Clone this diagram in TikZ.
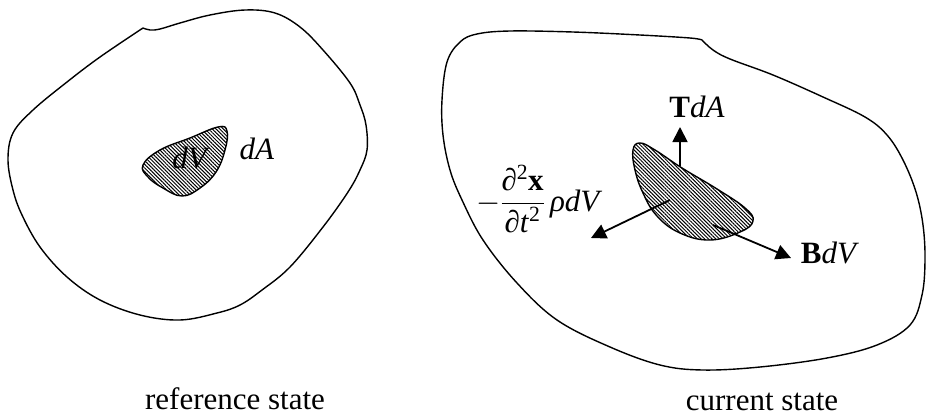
\RequirePackage{fix-cm}
\documentclass[tikz,border=0pt]{standalone}
\usepackage{amsmath}
\usepackage{fontspec}
\setmainfont{Liberation Serif}
\usetikzlibrary{arrows.meta,patterns.meta}
\begin{document}
\begin{tikzpicture}[x=1pt,y=-1pt,
  outline/.style={line width=1.4pt, line join=round},
  blob/.style={line width=1.4pt, pattern={Lines[angle=-45,distance=2.6pt,line width=1pt]}},
  vec/.style={line width=1.8pt,-{Triangle[length=15pt,width=15pt]}},
  lbl/.style={inner sep=0pt, font=\fontsize{31}{36}\selectfont}]
\useasboundingbox (0,0) rectangle (926,413);
% reference configuration
\draw[outline] plot[smooth, tension=0.6] coordinates {(143,28) (100,57) (67,82) (33,110) (13,133) (8,160) (13,190) (22,215) (40,247) (67,277) (100,300) (140,315) (180,320) (217,313) (240,305) (262,290) (290,267) (323,227) (348,192) (360,170) (367,150) (366,125) (360,105) (350,83) (323,50) (300,27) (275,13) (245,10) (210,15) (180,23) (160,29) (150,30) (143,28)};
\draw[blob] plot[smooth cycle, tension=0.7] coordinates {(143,165) (160,150) (190,138) (218,127) (227,131) (225,150) (216,172) (200,188) (182,196) (163,188) (148,177)};
\node[lbl] (dVl) at (191,158) {\textit{dV}};
\node[lbl] (dAl) at (257,149) {\textit{dA}};
% current configuration
\draw[outline] plot[smooth, tension=0.6] coordinates {(702,40) (713,50) (730,59) (773,75) (823,97) (865,117) (887,135) (903,160) (916,192) (923,225) (925,260) (922,295) (910,325) (877,345) (827,358) (760,367) (703,370) (660,365) (610,347) (557,320) (517,283) (483,240) (462,200) (450,170) (443,135) (442,100) (447,62) (460,42) (477,34) (510,31) (573,32) (640,35) (690,38) (702,40)};
\draw[blob] plot[smooth cycle, tension=0.7] coordinates {(633,150) (640,143) (655,150) (682,168) (717,189) (745,208) (753,221) (740,232) (710,240) (680,233) (657,216) (643,193) (635,170)};
\coordinate (tS) at (680,166);
\coordinate (tE) at (680,127);
\coordinate (aS) at (670,200);
\coordinate (aE) at (591,238);
\coordinate (bS) at (713,225);
\coordinate (bE) at (791,258);
\draw[vec] (tS) -- (tE);
\draw[vec] (aS) -- (aE);
\draw[vec] (bS) -- (bE);
\node[lbl] (TdA) at (697,107) {\textbf{T}\textit{dA}};
\node[lbl] (BdV) at (830,253) {\textbf{B}\textit{dV}};
\node[lbl, anchor=west] (acc) at (476,199) {$-\dfrac{\text{\textit{∂}\textsuperscript{2}\textbf{x}}}{\text{\textit{∂t}\textsuperscript{2}}}\,\text{\textit{ρdV}}$};
% captions
\node[lbl, anchor=base] (refcap) at (235,409) {reference state};
\node[lbl, anchor=base] (curcap) at (762,410) {current state};
\end{tikzpicture}
\end{document}
